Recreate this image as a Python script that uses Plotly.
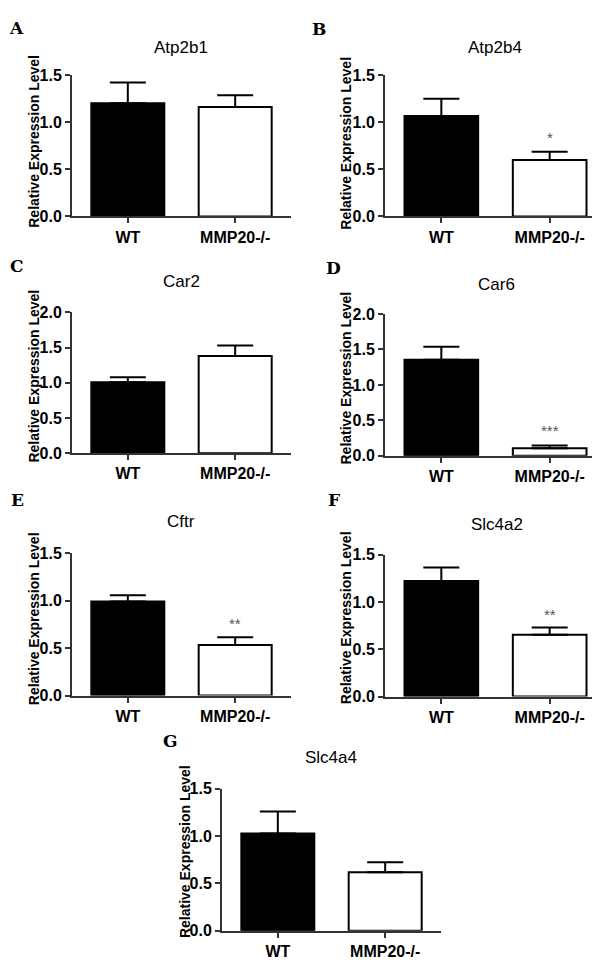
import plotly.graph_objects as go

W, H = 600, 968

groups = ["WT", "MMP20-/-"]
genes = ["Atp2b1", "Atp2b4", "Car2", "Car6", "Cftr", "Slc4a2", "Slc4a4"]
letters = ["A", "B", "C", "D", "E", "F", "G"]
means = {
    "Atp2b1": [1.20, 1.16],
    "Atp2b4": [1.066, 0.597],
    "Car2": [1.008, 1.38],
    "Car6": [1.353, 0.107],
    "Cftr": [0.99, 0.531],
    "Slc4a2": [1.222, 0.654],
    "Slc4a4": [1.029, 0.617],
}
sems = {
    "Atp2b1": [0.22, 0.124],
    "Atp2b4": [0.181, 0.09],
    "Car2": [0.07, 0.15],
    "Car6": [0.184, 0.037],
    "Cftr": [0.065, 0.083],
    "Slc4a2": [0.142, 0.077],
    "Slc4a4": [0.232, 0.108],
}
ymax = {"Atp2b1": 1.5, "Atp2b4": 1.5, "Car2": 2.0, "Car6": 2.0,
        "Cftr": 1.5, "Slc4a2": 1.5, "Slc4a4": 1.5}
stars = {"Atp2b4": "*", "Car6": "***", "Cftr": "**", "Slc4a2": "**"}
star_y = {"Atp2b4": 0.84, "Car6": 0.36, "Cftr": 0.76, "Slc4a2": 0.87}

# layout boxes in pixels: x0, x1, ytop, ybottom
boxes = {
    "Atp2b1": (64, 283, 60, 204),
    "Atp2b4": (377, 598, 60, 204),
    "Car2": (64, 283, 301.7, 445),
    "Car6": (377, 598, 303.3, 447.7),
    "Cftr": (64, 283, 546.7, 691.7),
    "Slc4a2": (377, 598, 548.3, 692.7),
    "Slc4a4": (214, 433, 786.7, 931),
}
title_pos = {
    "Atp2b1": (173, 32), "Atp2b4": (487, 32), "Car2": (173, 270),
    "Car6": (489, 273), "Cftr": (173, 515), "Slc4a2": (489, 518),
    "Slc4a4": (323, 755),
}
ylab_pos = {
    "Atp2b1": (26, 128), "Atp2b4": (338, 130), "Car2": (26, 367),
    "Car6": (338, 369), "Cftr": (26, 614), "Slc4a2": (338, 613),
    "Slc4a4": (177, 851),
}
letter_pos = {
    "A": (8, 12), "B": (311, 13), "C": (9, 254), "D": (325, 257),
    "E": (9, 493), "F": (326, 493), "G": (162, 738),
}

AX = "#333333"
fig = go.Figure()
annotations = []

def px_x(v):
    return v / W

def px_y(v):
    return 1 - v / H

for i, g in enumerate(genes):
    n = i + 1
    xa = "x" if n == 1 else f"x{n}"
    ya = "y" if n == 1 else f"y{n}"
    fig.add_trace(go.Bar(
        x=groups, y=means[g], xaxis=xa, yaxis=ya,
        marker=dict(color=["black", "white"], line=dict(color="black", width=2)),
        width=0.68,
        error_y=dict(type="data", symmetric=False, array=sems[g],
                     arrayminus=[0, 0], color="black", thickness=2, width=18),
        showlegend=False, hoverinfo="skip",
    ))
    x0, x1, yt, yb = boxes[g]
    ticks = [0.0, 0.5, 1.0, 1.5] + ([2.0] if ymax[g] > 1.5 else [])
    xkey = "xaxis" if n == 1 else f"xaxis{n}"
    ykey = "yaxis" if n == 1 else f"yaxis{n}"
    fig.layout[xkey] = dict(
        domain=[px_x(x0), px_x(x1)], anchor=ya, type="category",
        range=[-0.52, 1.52], showline=True, linecolor=AX, linewidth=2,
        ticks="outside", ticklen=5, tickwidth=2, tickcolor=AX,
        showgrid=False, zeroline=False, fixedrange=True,
        tickfont=dict(family="Liberation Sans", size=16, color="black", weight="bold"),
    )
    fig.layout[ykey] = dict(
        domain=[px_y(yb), px_y(yt)], anchor=xa, range=[0, ymax[g]],
        tickvals=ticks, tickformat=".1f", showline=True, linecolor=AX,
        linewidth=2, ticks="outside", ticklen=5, tickwidth=2, tickcolor=AX,
        showgrid=False, zeroline=False, fixedrange=True,
        tickfont=dict(family="Liberation Sans", size=16, color="black", weight="bold"),
    )
    tx, ty = title_pos[g]
    annotations.append(dict(text=g, x=px_x(tx), y=px_y(ty), xref="paper", yref="paper",
                            showarrow=False, xanchor="center", yanchor="middle",
                            font=dict(family="Liberation Sans", size=17, color="black")))
    lx, ly = ylab_pos[g]
    annotations.append(dict(text="Relative Expression Level", x=px_x(lx), y=px_y(ly),
                            xref="paper", yref="paper", showarrow=False, textangle=-90,
                            xanchor="center", yanchor="middle",
                            font=dict(family="Liberation Sans", size=14, color="black",
                                      weight="bold")))
    L = letters[i]
    cx, cy = letter_pos[L]
    annotations.append(dict(text=L, x=px_x(cx), y=px_y(cy), xref="paper", yref="paper",
                            showarrow=False, xanchor="center", yanchor="middle",
                            font=dict(family="DejaVu Serif", size=17, color="black",
                                      weight="bold")))
    if g in stars:
        annotations.append(dict(text=stars[g], x=groups[1], y=star_y[g], xref=xa, yref=ya,
                                showarrow=False, xanchor="center", yanchor="middle",
                                font=dict(family="Liberation Sans", size=15, color="#555555")))

fig.update_layout(
    width=W, height=H, margin=dict(l=0, r=0, t=0, b=0),
    paper_bgcolor="white", plot_bgcolor="white",
    annotations=annotations, bargap=0.3,
)
fig.write_html("out.html", config={"displayModeBar": False})
